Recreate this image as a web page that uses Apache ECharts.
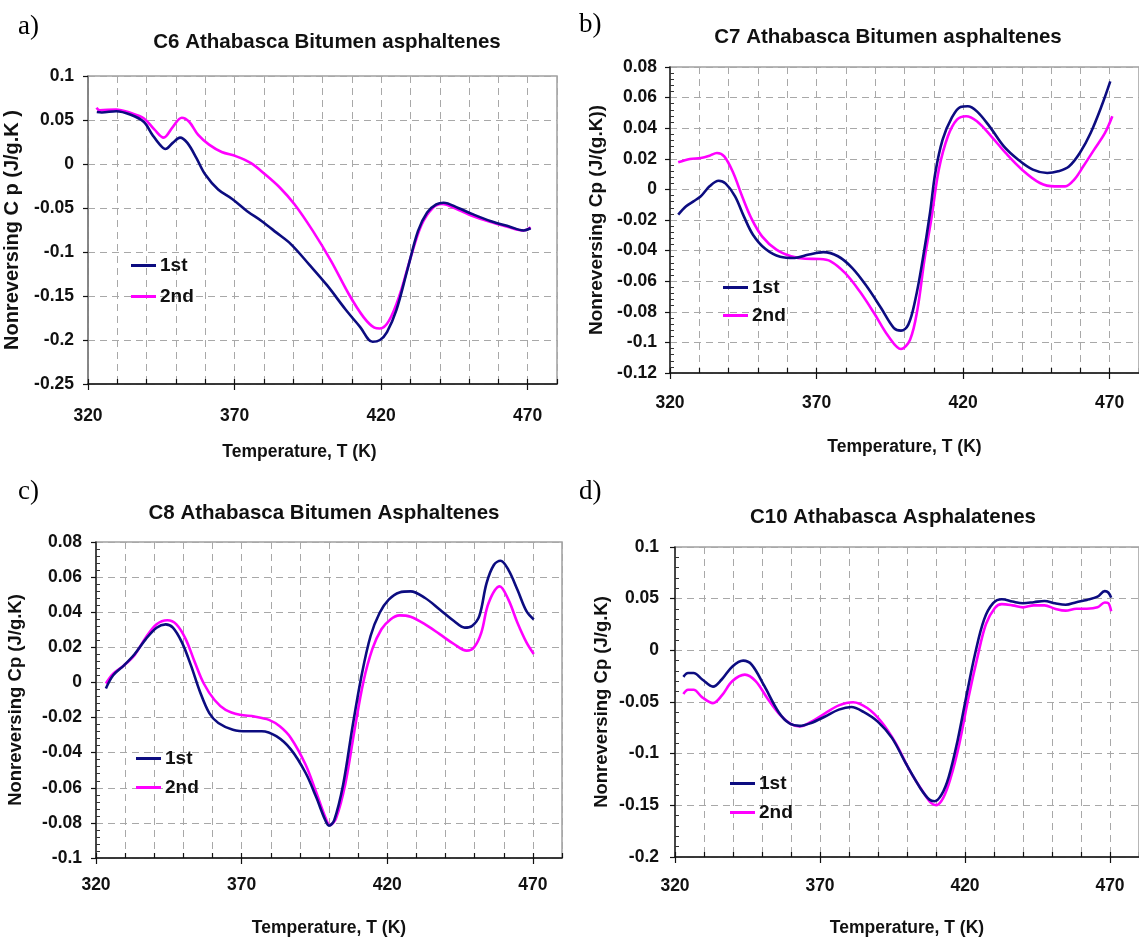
<!DOCTYPE html>
<html><head><meta charset="utf-8">
<script src="https://cdn.jsdelivr.net/npm/echarts@6/dist/echarts.min.js"></script>
<style>html,body{margin:0;padding:0;background:#fff}#c{width:1139px;height:938px}</style>
</head><body><div id="c"></div>
<script>
// ---------- data ----------
const X_TICK_LABELS = [320, 370, 420, 470];
const SERIES_NAMES = ['1st', '2nd'];

// a) C6
const A_T1 = [323, 324.7, 329.6, 334.6, 339, 342, 344.5, 346.4, 348.9, 351.4, 353.9, 357, 360, 364.4, 369.3, 374.3, 379.3, 384.3, 389.2, 395.4, 401.6, 407.8, 412.8, 417.1, 419.6, 422, 425.2, 428.9, 432.6, 435.7, 438.8, 441.3, 446.3, 451.2, 457.5, 463.7, 468.6, 471];
const A_CP1 = [0.059, 0.0586, 0.060, 0.056, 0.048, 0.033, 0.022, 0.017, 0.024, 0.030, 0.024, 0.0067, -0.012, -0.029, -0.040, -0.0536, -0.065, -0.078, -0.091, -0.114, -0.138, -0.165, -0.185, -0.202, -0.200, -0.191, -0.166, -0.121, -0.076, -0.055, -0.046, -0.044, -0.050, -0.057, -0.065, -0.071, -0.0755, -0.073];
const A_T2 = [322.9, 324, 329.6, 334.6, 339, 342.7, 345.8, 348.9, 352, 354.5, 357.6, 361.3, 365.6, 370.6, 375.6, 380.5, 385.5, 390.5, 396.7, 402.9, 409, 414, 417.7, 419.6, 422.7, 426.4, 430.1, 433.8, 437.6, 440.7, 446.3, 451.2, 457.5, 463.7, 468.6, 471];
const A_CP2 = [0.064, 0.061, 0.062, 0.058, 0.052, 0.039, 0.030, 0.042, 0.0526, 0.048, 0.033, 0.022, 0.0137, 0.0087, 0.001, -0.012, -0.027, -0.046, -0.076, -0.110, -0.148, -0.174, -0.186, -0.187, -0.178, -0.148, -0.106, -0.069, -0.050, -0.0455, -0.052, -0.059, -0.066, -0.072, -0.0755, -0.072];

// b) C7
const B_T1 = [322.8, 325.5, 328, 330.5, 333.5, 336.6, 339, 342.2, 345.2, 348.3, 352.6, 357.6, 362.5, 367.4, 372.3, 377.3, 382.2, 387.1, 392, 396.4, 398.8, 401.3, 403.7, 406.2, 408.7, 410.5, 413, 416.1, 419.1, 421.6, 424.7, 429, 433.9, 438.8, 443.8, 448.7, 452.4, 456.1, 459.8, 463.5, 467.2, 470.2];
const B_CP1 = [-0.0165, -0.011, -0.0078, -0.0045, 0.002, 0.0057, 0.0038, -0.0045, -0.0176, -0.0296, -0.039, -0.044, -0.0448, -0.0426, -0.041, -0.0437, -0.0514, -0.0633, -0.0775, -0.0906, -0.0923, -0.0884, -0.072, -0.046, -0.0154, 0.0107, 0.0325, 0.0467, 0.0539, 0.0543, 0.051, 0.0412, 0.0281, 0.0194, 0.0129, 0.0107, 0.0118, 0.015, 0.0238, 0.0369, 0.0543, 0.0706];
const B_T2 = [322.8, 326.8, 330.5, 333.5, 336, 338.5, 341.6, 344.6, 347.7, 351.4, 356.3, 361.3, 366.2, 371.1, 374.8, 379.7, 384.7, 389.6, 394.5, 398.8, 401.9, 404.4, 406.8, 409.3, 411.7, 414.8, 417.9, 421, 424.7, 429.6, 434.5, 440.1, 446.2, 451.2, 454.8, 457.9, 461, 464.7, 468.4, 470.9];
const B_CP2 = [0.0177, 0.0199, 0.0205, 0.022, 0.0238, 0.0216, 0.0107, -0.0045, -0.0187, -0.0307, -0.0394, -0.0437, -0.0453, -0.0455, -0.047, -0.0546, -0.0666, -0.0808, -0.096, -0.1043, -0.0982, -0.0786, -0.046, -0.0176, 0.0129, 0.0347, 0.0456, 0.0478, 0.0445, 0.0347, 0.0238, 0.0129, 0.0042, 0.002, 0.002, 0.0064, 0.0151, 0.026, 0.0369, 0.0478];

// c) C8
const C_T1 = [323.4, 325.9, 329.6, 333.3, 337.1, 340.8, 343.9, 346.4, 349.5, 352.6, 355.7, 358.9, 362, 367, 371.9, 376.9, 381.9, 386.9, 391.9, 395.6, 398.7, 400, 401.8, 404.9, 408, 411.2, 414.3, 417.4, 420.5, 424.2, 428, 433, 438, 442.9, 446.6, 449.1, 451.6, 454.1, 456.6, 458.9, 461.6, 464.7, 467.8, 470.3];
const C_CP1 = [-0.0034, 0.0041, 0.0097, 0.0162, 0.0247, 0.0312, 0.0331, 0.0312, 0.0228, 0.0097, -0.0053, -0.0175, -0.0231, -0.0269, -0.0278, -0.0278, -0.0306, -0.0381, -0.0513, -0.0653, -0.0784, -0.0816, -0.0784, -0.0578, -0.0259, 0.0041, 0.0266, 0.0397, 0.0472, 0.0513, 0.0519, 0.0481, 0.0416, 0.035, 0.0312, 0.0322, 0.0378, 0.0566, 0.0669, 0.0693, 0.0641, 0.0528, 0.0406, 0.0359];
const C_T2 = [323.4, 325.9, 329.6, 333.3, 337.1, 340.8, 344.5, 347.6, 350.8, 353.9, 357, 360.7, 364.5, 369.4, 374.4, 379.4, 383.1, 386.9, 391.9, 395.6, 398.7, 400.3, 402.4, 405.6, 408.7, 411.8, 414.9, 418, 421.1, 424.2, 428, 433, 438, 442.9, 447.3, 449.8, 452.3, 454.8, 458.6, 461.6, 464.7, 467.8, 470.3];
const C_CP2 = [-0.0006, 0.005, 0.0097, 0.0157, 0.0256, 0.0331, 0.0354, 0.0331, 0.0247, 0.0116, -0.0006, -0.01, -0.0156, -0.0184, -0.0194, -0.0213, -0.025, -0.0316, -0.0466, -0.0625, -0.0766, -0.0813, -0.0775, -0.0578, -0.0278, 0.0003, 0.0191, 0.0303, 0.0359, 0.0382, 0.0374, 0.0331, 0.0275, 0.0219, 0.0181, 0.02, 0.0284, 0.0453, 0.0547, 0.0472, 0.034, 0.0228, 0.0162];

// d) C10
const D_T1 = [322.9, 324.5, 326.4, 329.4, 333.1, 336.1, 339.8, 343.5, 346.5, 350.8, 355.7, 359.4, 363, 366.7, 371.6, 376.5, 380.8, 385, 389.9, 394.8, 399.7, 404.6, 407.7, 409.5, 411.9, 414.4, 417.4, 420.5, 423.5, 426.6, 429.7, 432.7, 436.4, 440, 443.7, 447.4, 451, 454.7, 458.4, 462, 465.7, 468.2, 469.4, 470.4];
const D_CP1 = [-0.0257, -0.022, -0.022, -0.0282, -0.0351, -0.0282, -0.0156, -0.010, -0.014, -0.0345, -0.0596, -0.0706, -0.0731, -0.0706, -0.0643, -0.0574, -0.0549, -0.0596, -0.069, -0.0847, -0.1099, -0.1334, -0.1444, -0.146, -0.1397, -0.1224, -0.0879, -0.0439, -0.003, 0.030, 0.0456, 0.0494, 0.0472, 0.0456, 0.0466, 0.0478, 0.0456, 0.0441, 0.0466, 0.0488, 0.0519, 0.0573, 0.056, 0.051];
const D_T2 = [322.9, 324.5, 326.4, 329.4, 333.1, 336.1, 339.8, 344.1, 347.8, 352, 356.3, 360, 363, 366.7, 371.6, 376.5, 381.4, 386.3, 391.1, 396, 400.9, 405.8, 408.3, 410.1, 412.5, 415, 418, 421.1, 424.2, 427.2, 430.3, 432.7, 436.4, 440, 443.7, 447.4, 451, 454.7, 458.4, 462, 465.7, 468.2, 469.4, 470.4];
const D_CP2 = [-0.0423, -0.0382, -0.0382, -0.0455, -0.0511, -0.0439, -0.0297, -0.0235, -0.0297, -0.047, -0.0627, -0.0715, -0.0737, -0.0696, -0.0612, -0.0533, -0.0502, -0.0558, -0.069, -0.0894, -0.1161, -0.1381, -0.1476, -0.1498, -0.1428, -0.124, -0.091, -0.047, -0.0078, 0.0252, 0.041, 0.0447, 0.0435, 0.0416, 0.0435, 0.0435, 0.0403, 0.0384, 0.0403, 0.0403, 0.0416, 0.0463, 0.0457, 0.0378];

// ---------- chart ----------
const SANS = "'Liberation Sans',Arial,sans-serif";
const SERIF = "'Liberation Serif','Times New Roman',serif";
const COLORS = ['#0c0c80', '#ff00ff'];

const panels = [
  { grid: {left: 88, top: 76, width: 469, height: 308},
    y: {min: -0.25, max: 0.1, interval: 0.05, minor: false},
    yName: 'Nonreversing C p (J/g.K )', yNameGap: 66, yNameSize: 20, yLabelMargin: 14,
    xLabelMargin: 23, xNameGap: 59, xNamePad: [0, 46, 0, 0], yLineColor: '#777',
    legend: {left: 131, top: 256, gap: 12},
    title: {text: 'C6 Athabasca Bitumen asphaltenes', x: 327, y: 42},
    letter: {text: 'a)', x: 18, y: 27},
    data: [[A_T1, A_CP1], [A_T2, A_CP2]] },
  { grid: {left: 670, top: 67, width: 473, height: 306},
    y: {min: -0.12, max: 0.08, interval: 0.02, minor: true},
    yName: 'Nonreversing Cp (J/(g.K))', yNameGap: 64, yNameSize: 19, yLabelMargin: 13,
    xLabelMargin: 21, xNameGap: 65, xNamePad: [0, 0, 0, 0], yLineColor: '#222',
    legend: {left: 723, top: 278, gap: 9},
    title: {text: 'C7 Athabasca Bitumen asphaltenes', x: 888, y: 37},
    letter: {text: 'b)', x: 579, y: 25},
    data: [[B_T1, B_CP1], [B_T2, B_CP2]] },
  { grid: {left: 96, top: 542, width: 466, height: 320},
    y: {min: -0.1, max: 0.08, interval: 0.02, minor: true},
    yName: 'Nonreversing Cp (J/g.K)', yNameGap: 71, yNameSize: 18.5, yLabelMargin: 14,
    xLabelMargin: 18, xNameGap: 61, xNamePad: [0, 0, 0, 0], yLineColor: '#222',
    legend: {left: 136, top: 749, gap: 10},
    title: {text: 'C8 Athabasca Bitumen Asphaltenes', x: 324, y: 513},
    letter: {text: 'c)', x: 18, y: 492},
    data: [[C_T1, C_CP1], [C_T2, C_CP2]] },
  { grid: {left: 675, top: 547, width: 473, height: 319},
    y: {min: -0.2, max: 0.1, interval: 0.05, minor: true},
    yName: 'Nonreversing Cp (J/g.K)', yNameGap: 64, yNameSize: 18.5, yLabelMargin: 16,
    xLabelMargin: 20, xNameGap: 62, xNamePad: [0, 0, 0, 0], yLineColor: '#222',
    legend: {left: 730, top: 774, gap: 10},
    title: {text: 'C10 Athabasca Asphalatenes', x: 893, y: 517},
    letter: {text: 'd)', x: 579, y: 492},
    data: [[D_T1, D_CP1], [D_T2, D_CP2]] }
];

const option = {
  animation: false,
  backgroundColor: '#fff',
  grid: [], xAxis: [], yAxis: [], series: [], legend: [], graphic: []
};

const dashed = {show: true, lineStyle: {color: '#a8a8a8', width: 1, type: [7, 5]}};

panels.forEach((p, i) => {
  option.grid.push(Object.assign({show: true, borderColor: '#a0a0a0', borderWidth: 1.5, backgroundColor: 'transparent'}, p.grid));
  const xMain = option.xAxis.length;
  option.xAxis.push({
    type: 'value', gridIndex: i, position: 'bottom', min: 320, max: 480, interval: 10,
    axisLine: {show: true, onZero: false, lineStyle: {color: '#111', width: 1.5}},
    axisTick: {show: true, inside: true, length: 5, lineStyle: {color: '#111', width: 1.2}},
    axisLabel: {customValues: X_TICK_LABELS, margin: p.xLabelMargin, color: '#111', fontFamily: SANS, fontWeight: 'bold', fontSize: 17.5},
    splitLine: dashed,
    name: 'Temperature, T (K)', nameLocation: 'middle', nameGap: p.xNameGap,
    nameTextStyle: {color: '#111', fontFamily: SANS, fontWeight: 'bold', fontSize: 17.5, padding: p.xNamePad}
  });
  option.xAxis.push({
    type: 'value', gridIndex: i, position: 'bottom', min: 320, max: 480,
    axisLine: {show: false, onZero: false},
    axisTick: {show: true, inside: false, length: 6, customValues: X_TICK_LABELS, lineStyle: {color: '#111', width: 1.2}},
    axisLabel: {show: false}, splitLine: {show: false}
  });
  const yMain = option.yAxis.length;
  option.yAxis.push({
    type: 'value', gridIndex: i, position: 'left', min: p.y.min, max: p.y.max, interval: p.y.interval,
    axisLine: {show: true, onZero: false, lineStyle: {color: p.yLineColor, width: 1.5}},
    axisTick: {show: !p.y.minor, inside: p.y.minor, length: 5, lineStyle: {color: '#111', width: 1.2}},
    minorTick: {show: p.y.minor, splitNumber: 5, length: 4, lineStyle: {color: '#333', width: 1}},
    axisLabel: {margin: p.yLabelMargin, color: '#111', fontFamily: SANS, fontWeight: 'bold', fontSize: 17.5},
    splitLine: dashed,
    name: p.yName, nameLocation: 'middle', nameGap: p.yNameGap,
    nameTextStyle: {color: '#111', fontFamily: SANS, fontWeight: 'bold', fontSize: p.yNameSize}
  });
  if (p.y.minor) {
    option.yAxis.push({
      type: 'value', gridIndex: i, position: 'left', min: p.y.min, max: p.y.max, interval: p.y.interval,
      axisLine: {show: false, onZero: false},
      axisTick: {show: true, inside: false, length: 5, lineStyle: {color: '#111', width: 1.2}},
      axisLabel: {show: false}, splitLine: {show: false}
    });
  }
  p.data.forEach((d, k) => {
    const [ts, vs] = d;
    option.series.push({
      type: 'line', name: SERIES_NAMES[k], xAxisIndex: xMain, yAxisIndex: yMain,
      data: ts.map((t, j) => [t, vs[j]]),
      smooth: 0.35, showSymbol: false, symbol: 'none',
      lineStyle: {color: COLORS[k], width: 2.6}, itemStyle: {color: COLORS[k]},
      z: 3 + (1 - k)
    });
  });
  option.legend.push({
    orient: 'vertical', left: p.legend.left, top: p.legend.top, padding: 0, itemGap: p.legend.gap,
    itemWidth: 25, itemHeight: 3, icon: 'rect', selectedMode: false,
    data: SERIES_NAMES.map((n, k) => ({name: n, itemStyle: {color: COLORS[k]}})),
    textStyle: {color: '#111', fontFamily: SANS, fontWeight: 'bold', fontSize: 19, lineHeight: 19, padding: [0, 0, 0, -1]}
  });
  option.graphic.push({
    type: 'text', x: p.title.x, y: p.title.y, silent: true,
    style: {text: p.title.text, fill: '#111', font: 'bold 20.5px ' + SANS, align: 'center', verticalAlign: 'middle'}
  });
  option.graphic.push({
    type: 'text', x: p.letter.x, y: p.letter.y, silent: true,
    style: {text: p.letter.text, fill: '#000', font: '27px ' + SERIF, align: 'left', verticalAlign: 'middle'}
  });
});

const chart = echarts.init(document.getElementById('c'), null, {renderer: 'canvas'});
chart.setOption(option);
</script>
</body></html>
